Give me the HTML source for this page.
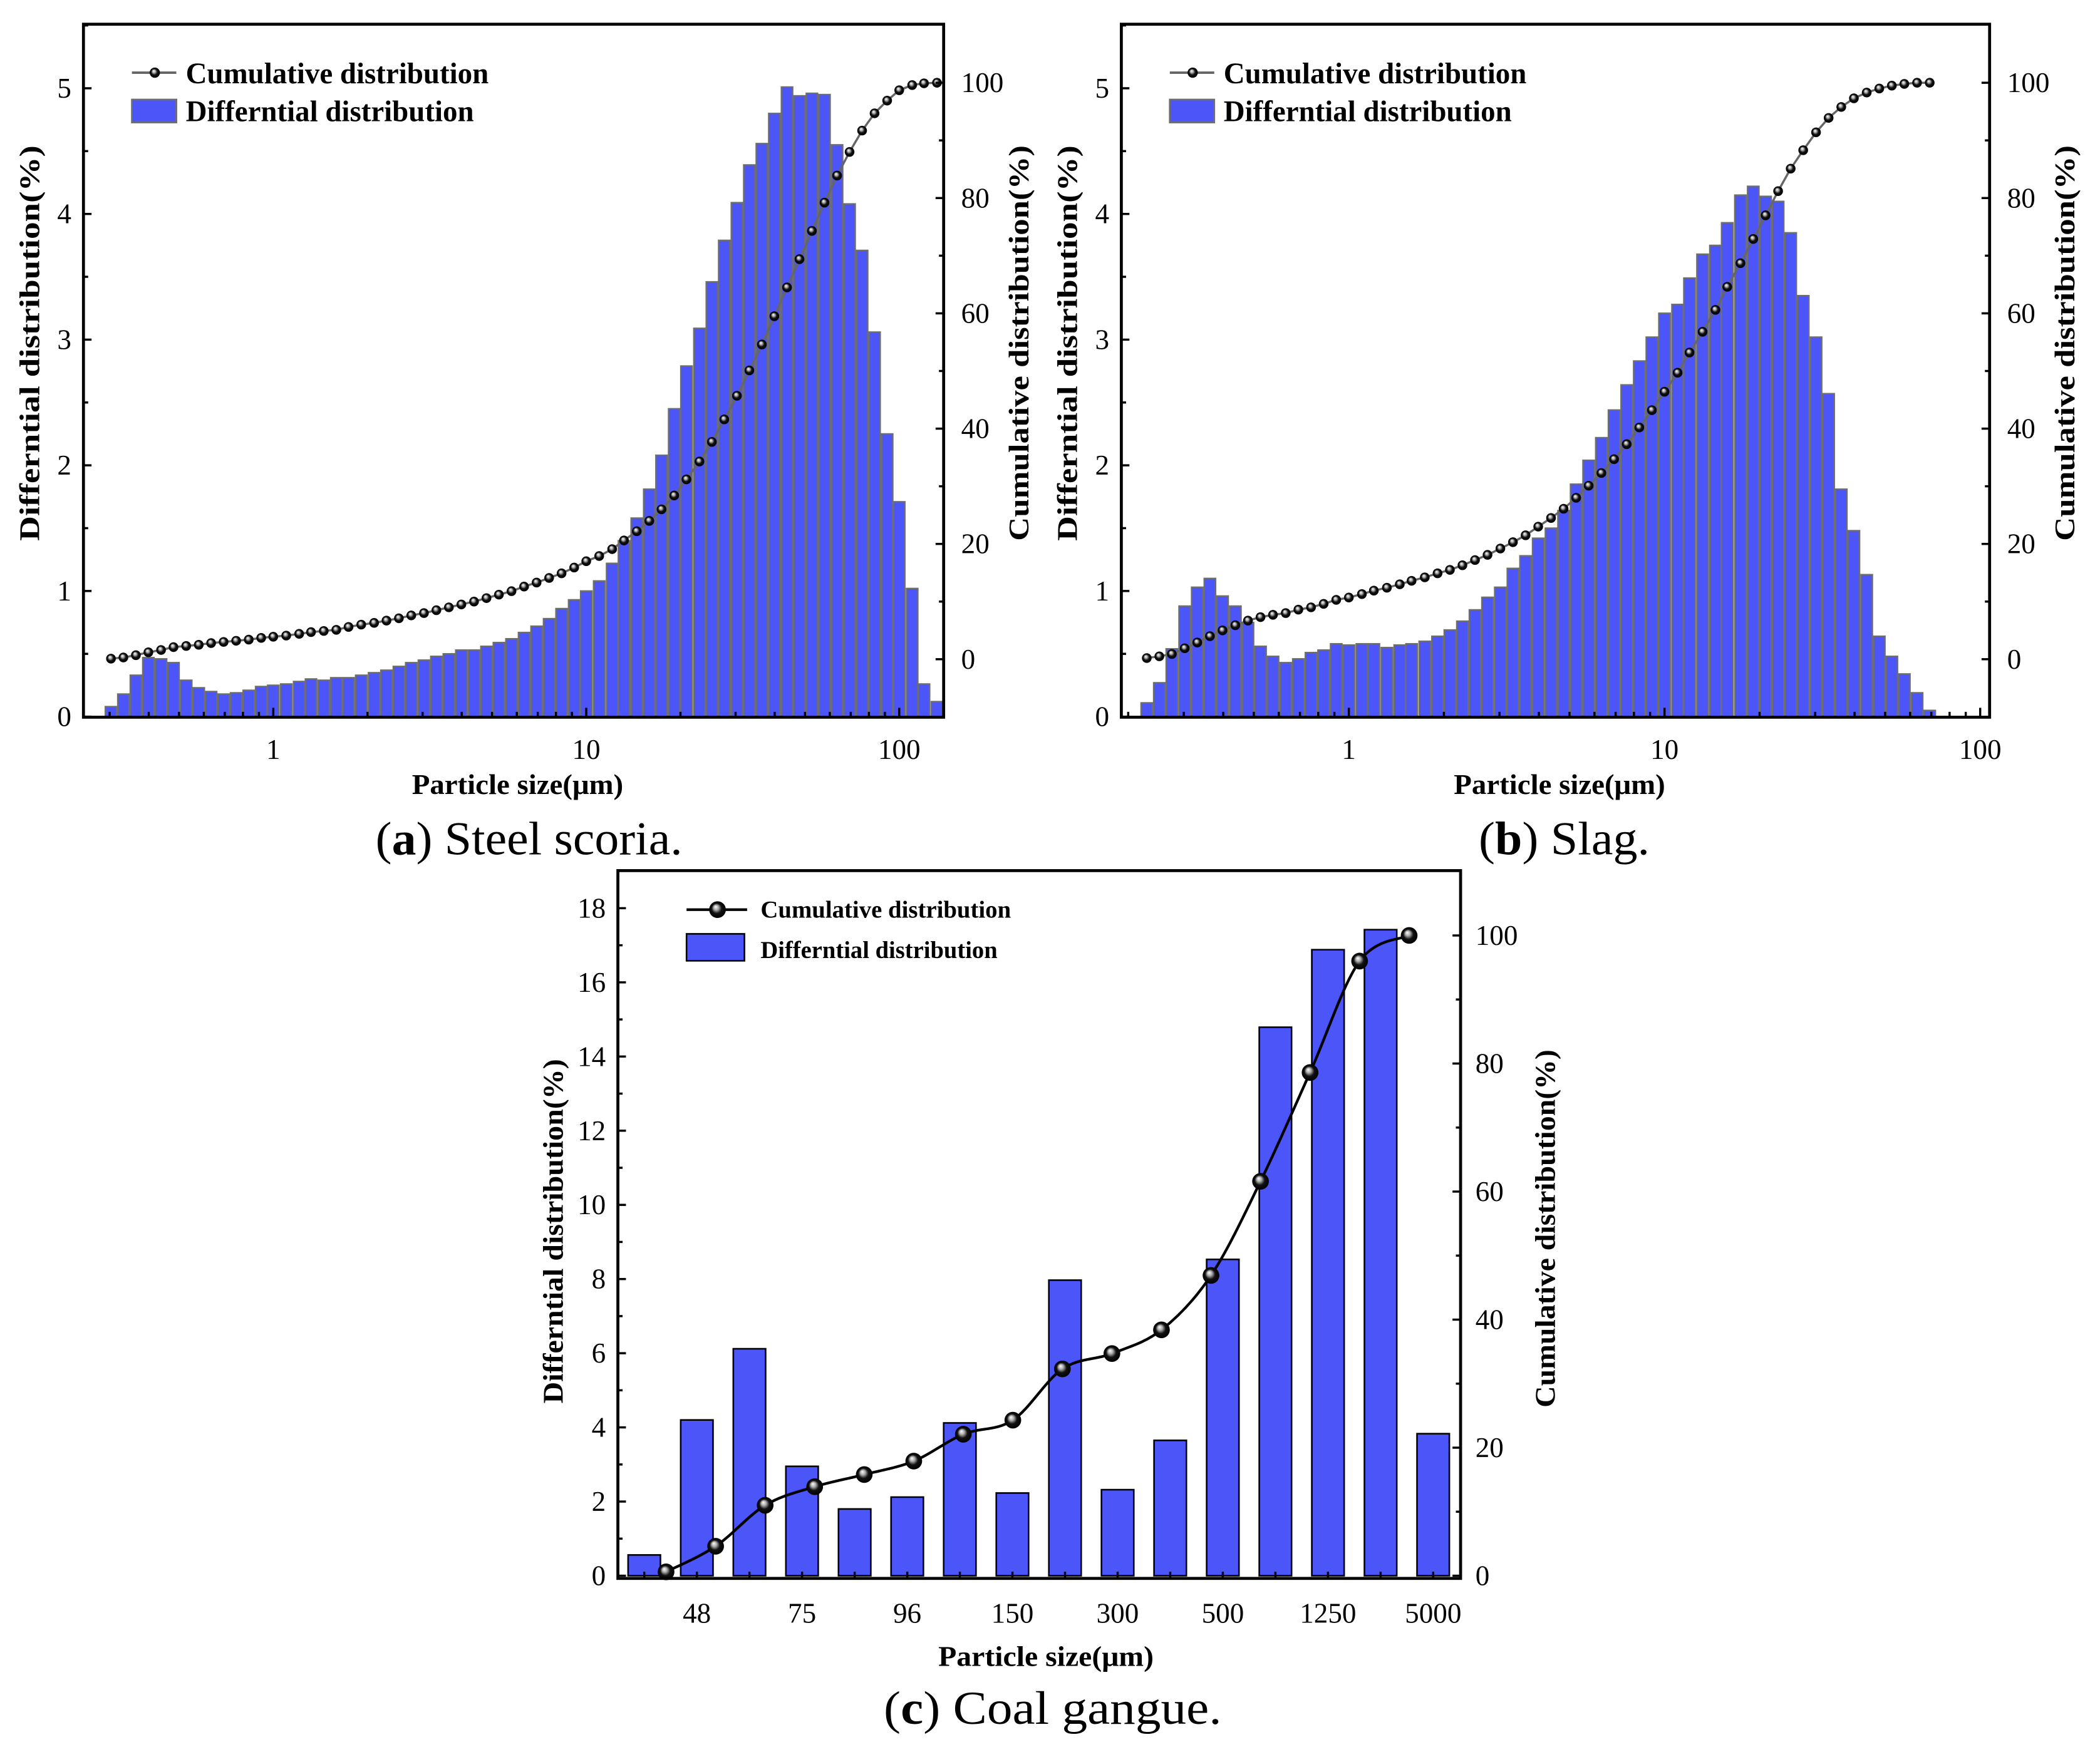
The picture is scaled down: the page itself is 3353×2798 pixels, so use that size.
<!DOCTYPE html>
<html><head><meta charset="utf-8"><style>
html,body{margin:0;padding:0;background:#fff;}
svg{display:block;}
.tk{font-family:"Liberation Serif",serif;font-size:21px;fill:#000;}
.tt{font-family:"Liberation Serif",serif;font-size:21px;font-weight:bold;fill:#000;}
.lg{font-family:"Liberation Serif",serif;font-size:22px;font-weight:bold;fill:#000;}
.lgc{font-family:"Liberation Serif",serif;font-size:18px;font-weight:bold;fill:#000;}
.cap{font-family:"Liberation Serif",serif;font-size:35px;fill:#000;}
</style></head><body>
<svg id="fig" width="3353" height="2798" viewBox="0 0 1560 1302" preserveAspectRatio="none" xmlns="http://www.w3.org/2000/svg">
<defs>
<radialGradient id="sph" cx="0.5" cy="0.5" r="0.5" fx="0.38" fy="0.32">
<stop offset="0" stop-color="#ffffff"/><stop offset="0.3" stop-color="#aaaaaa"/><stop offset="0.6" stop-color="#111"/><stop offset="1" stop-color="#000"/>
</radialGradient>
</defs>
<rect x="0" y="0" width="1560" height="1302" fill="#fff"/>
<g id="layer"></g>
</svg>
<script>
const aSizes=[0.303,0.332,0.364,0.399,0.438,0.480,0.527,0.578,0.633,0.694,0.761,0.835,0.915,1.00,1.10,1.21,1.32,1.45,1.59,1.74,1.91,2.10,2.30,2.52,2.76,3.03,3.32,3.64,3.99,4.38,4.80,5.26,5.77,6.33,6.94,7.61,8.34,9.15,10.0,11.0,12.1,13.2,14.5,15.9,17.4,19.1,20.9,23.0,25.2,27.6,30.3,33.2,36.4,39.9,43.8,48.0,52.6,57.7,63.3,69.4,76.1,83.4,91.5,100,110,120,132];
const aDiff=[0.08,0.18,0.33,0.47,0.46,0.43,0.29,0.23,0.2,0.18,0.19,0.21,0.24,0.25,0.26,0.28,0.3,0.29,0.31,0.31,0.33,0.35,0.37,0.4,0.43,0.45,0.48,0.5,0.53,0.53,0.56,0.59,0.62,0.67,0.72,0.78,0.86,0.93,1.0,1.08,1.22,1.4,1.58,1.81,2.08,2.45,2.79,3.09,3.46,3.79,4.09,4.39,4.56,4.8,5.01,4.94,4.96,4.95,4.55,4.08,3.71,3.06,2.25,1.71,1.02,0.26,0.12];
const aCum=[0.1,0.3,0.7,1.2,1.6,2.1,2.3,2.5,2.8,3.0,3.2,3.4,3.7,3.9,4.1,4.4,4.7,4.9,5.1,5.6,6.0,6.3,6.7,7.1,7.6,8.0,8.5,9.0,9.5,10.0,10.6,11.2,11.8,12.6,13.3,14.1,14.9,15.9,17.0,17.9,19.1,20.6,22.2,24.0,26.0,28.4,31.2,34.3,37.7,41.6,45.7,50.1,54.6,59.5,64.5,69.4,74.3,79.2,83.9,88.0,91.7,94.7,96.9,98.7,99.6,99.9,100];
const bSizes=[0.229,0.251,0.275,0.302,0.331,0.363,0.398,0.437,0.479,0.525,0.575,0.631,0.692,0.759,0.832,0.912,1.00,1.10,1.20,1.32,1.45,1.58,1.74,1.91,2.09,2.29,2.51,2.75,3.02,3.31,3.63,3.98,4.37,4.79,5.25,5.75,6.31,6.92,7.59,8.32,9.12,10.0,11.0,12.0,13.2,14.5,15.8,17.4,19.1,20.9,22.9,25.1,27.5,30.2,33.1,36.3,39.8,43.7,47.9,52.5,57.5,63.1,69.2];
const bDiff=[0.11,0.27,0.54,0.88,1.03,1.10,0.96,0.88,0.75,0.56,0.48,0.43,0.46,0.51,0.53,0.58,0.57,0.58,0.58,0.55,0.57,0.58,0.60,0.64,0.69,0.76,0.85,0.95,1.03,1.18,1.28,1.42,1.50,1.64,1.85,2.04,2.22,2.44,2.64,2.83,3.02,3.21,3.28,3.49,3.68,3.75,3.93,4.15,4.22,4.14,4.10,3.85,3.35,3.02,2.57,1.81,1.48,1.13,0.64,0.48,0.34,0.19,0.05];
const bCum=[0.2,0.5,0.9,1.9,2.9,4.0,5.0,5.9,6.7,7.3,7.7,8.0,8.6,9.0,9.6,10.3,10.7,11.3,11.9,12.4,13.0,13.6,14.2,14.9,15.5,16.3,17.2,18.1,19.2,20.3,21.5,23.0,24.5,26.1,28.0,30.1,32.3,34.7,37.3,40.2,43.2,46.4,49.7,53.2,56.8,60.6,64.6,68.7,72.9,77.0,81.2,85.1,88.3,91.4,93.9,95.8,97.3,98.3,99.0,99.5,99.8,100,100];
const cLabels=['','48','','75','','96','','150','','300','','500','','1250','','5000'];
const cDiff=[0.56,4.2,6.12,2.95,1.80,2.12,4.12,2.23,7.97,2.32,3.65,8.53,14.79,16.88,17.42,3.83];
const cCum=[0.6,4.6,11.0,13.9,15.8,17.9,22.1,24.3,32.3,34.7,38.4,46.9,61.6,78.6,96.0,100];
const aLeftTicks=[0,1,2,3,4,5];
const rightTicks=[0,20,40,60,80,100];
const logTicks=[1,10,100];
const cLeftTicks=[0,2,4,6,8,10,12,14,16,18];

const NS='http://www.w3.org/2000/svg';
const L=document.getElementById('layer');
function mk(tag,attrs,parent,text){const e=document.createElementNS(NS,tag);for(const k in attrs)e.setAttribute(k,attrs[k]);if(text!==undefined)e.textContent=text;(parent||L).appendChild(e);return e;}
function grp(name){const g=document.createElementNS(NS,'g');


L.appendChild(g);return g;}
const SQ='spacingAndGlyphs';

function logPanel(p){
  const g=grp(p.name);
  const fx=p.fx0,fx1=p.fx1,fy0=18,fy1=533;
  const xs=v=>p.x1+Math.log10(v)*p.dec;
  const ys=v=>532.6-v*93.4;
  const rs=v=>489.9-v*4.284;
  const bw=p.dec*0.04*0.9;
  const bg=document.createElementNS(NS,'g');
  
  
  g.appendChild(bg);
  p.sizes.forEach((s,i)=>{
    const x=xs(s),y=ys(p.diff[i]);
    const r=mk('rect',{x:x-bw/2,y:y,width:bw,height:ys(0)-y,fill:'#4B55F8',stroke:'#6e6e6e','stroke-width':1.1},bg);
    
    
  });
  const pts=p.sizes.map((s,i)=>[xs(s),rs(p.cum[i])]);
  const ln=mk('polyline',{points:pts.map(q=>q.join(',')).join(' '),fill:'none',stroke:'#666','stroke-width':1.6},g);
  
  
  pts.forEach(q=>{const c=mk('circle',{cx:q[0],cy:q[1],r:3.6,fill:'url(#sph)'},g);
  
  });
  mk('rect',{x:fx,y:fy0,width:fx1-fx,height:fy1-fy0,fill:'none',stroke:'#000','stroke-width':2.2},g);
  for(let v=0;v<=5.5;v+=0.5){const y=ys(v);const maj=Math.abs(v-Math.round(v))<1e-6;
    mk('line',{x1:fx,x2:fx+(maj?6:3.5),y1:y,y2:y,stroke:'#000','stroke-width':1.6},g);}
  aLeftTicks.forEach(v=>{const t=mk('text',{x:fx-9,y:ys(v)+7,'text-anchor':'end',class:'tk'},g,String(v));
    
    });
  for(let v=-10;v<=110;v+=10){const y=rs(v);if(y<fy0+1||y>fy1-1)continue;const maj=v%20===0;
    mk('line',{x1:fx1,x2:fx1-(maj?6:3.5),y1:y,y2:y,stroke:'#000','stroke-width':1.6},g);}
  rightTicks.forEach(v=>{const t=mk('text',{x:fx1+13,y:rs(v)+7,class:'tk'},g,String(v));
    
    });
  for(let d=0.1;d<=100;d*=10){for(let m=1;m<10;m++){const v=d*m;const x=xs(v);if(x<fx+1||x>fx1-1)continue;
    mk('line',{x1:x,x2:x,y1:fy1,y2:fy1-(m===1?7:4),stroke:'#000','stroke-width':1.6},g);}}
  logTicks.forEach(v=>{const x=xs(v);if(x>fx1+12)return;const t=mk('text',{x:x,y:564,'text-anchor':'middle',class:'tk'},g,String(v));
    
    });
  const xt=mk('text',{x:(fx+fx1)/2+3,y:590,'text-anchor':'middle',class:'tt',textLength:157,lengthAdjust:SQ},g,'Particle size(μm)');
  
  const yt=mk('text',{x:0,y:0,'text-anchor':'middle',class:'tt',textLength:294,lengthAdjust:SQ,transform:`translate(${fx-33},255) rotate(-90)`},g,'Differntial distribution(%)');
  
  const rt=mk('text',{x:0,y:0,'text-anchor':'middle',class:'tt',textLength:294,lengthAdjust:SQ,transform:`translate(${fx1+63},255) rotate(-90)`},g,'Cumulative distribution(%)');
  
  const lx=fx+36;
  const lg=document.createElementNS(NS,'g');
  
  
  g.appendChild(lg);
  mk('line',{x1:lx,x2:lx+33,y1:54,y2:54,stroke:'#666','stroke-width':1.8},lg);
  mk('circle',{cx:lx+17,cy:54,r:3.8,fill:'url(#sph)'},lg);
  mk('text',{x:lx+40,y:62,class:'lg',textLength:225,lengthAdjust:SQ},lg,'Cumulative distribution');
  mk('rect',{x:lx,y:74,width:33,height:17,fill:'#4B55F8',stroke:'#6e6e6e','stroke-width':1.3},lg);
  mk('text',{x:lx+40,y:90,class:'lg',textLength:214,lengthAdjust:SQ},lg,'Differntial distribution');
  const cp=mk('text',{x:p.capX,y:635,'text-anchor':'middle',class:'cap',textLength:p.capW,lengthAdjust:SQ},g);
  
  mk('tspan',{},cp,'(');mk('tspan',{'font-weight':'bold'},cp,p.capL);mk('tspan',{},cp,') '+p.capT);
}
logPanel({name:'panel-a-steel-scoria',fx0:62,fx1:701,x1:203,dec:232.5,sizes:aSizes,diff:aDiff,cum:aCum,capX:393,capW:228,capL:'a',capT:'Steel scoria.'});
logPanel({name:'panel-b-slag',fx0:833,fx1:1478,x1:1002,dec:234.5,sizes:bSizes,diff:bDiff,cum:bCum,capX:1162,capW:127,capL:'b',capT:'Slag.'});

(function(){
  const g=grp('panel-c-coal-gangue');
  const fx=459,fx1=1085,fy0=647,fy1=1173;
  const yc=v=>1171-v*27.56, rc=v=>1171-v*4.758;
  const xb=i=>478.6+i*39.07, xp=i=>494.8+i*36.8;
  const bw=24;
  cDiff.forEach((v,i)=>{const r=mk('rect',{x:xb(i)-bw/2,y:yc(v),width:bw,height:yc(0)-yc(v),fill:'#4B55F8',stroke:'#000','stroke-width':1.2},g);
    
    });
  const P=cCum.map((v,i)=>[xp(i),rc(v)]);
  let d='M'+P[0][0]+','+P[0][1];
  for(let i=0;i<P.length-1;i++){const p0=P[Math.max(0,i-1)],p1=P[i],p2=P[i+1],p3=P[Math.min(P.length-1,i+2)];
    const c1=[p1[0]+(p2[0]-p0[0])/6,p1[1]+(p2[1]-p0[1])/6],c2=[p2[0]-(p3[0]-p1[0])/6,p2[1]-(p3[1]-p1[1])/6];
    d+=` C${c1[0]},${c1[1]} ${c2[0]},${c2[1]} ${p2[0]},${p2[1]}`;}
  const ln=mk('path',{d:d,fill:'none',stroke:'#000','stroke-width':2},g);
  
  
  P.forEach(q=>{const c=mk('circle',{cx:q[0],cy:q[1],r:6.2,fill:'url(#sph)'},g);
    
    });
  mk('rect',{x:fx,y:fy0,width:fx1-fx,height:fy1-fy0,fill:'none',stroke:'#000','stroke-width':2.2},g);
  for(let v=0;v<=19;v+=1){const y=yc(v);if(y<fy0+1)continue;const maj=v%2===0;
    mk('line',{x1:fx,x2:fx+(maj?6:3.5),y1:y,y2:y,stroke:'#000','stroke-width':1.6},g);}
  cLeftTicks.forEach(v=>{const t=mk('text',{x:fx-9,y:yc(v)+7,'text-anchor':'end',class:'tk'},g,String(v));
    });
  for(let v=0;v<=110;v+=10){const y=rc(v);if(y<fy0+1)continue;const maj=v%20===0;
    mk('line',{x1:fx1,x2:fx1-(maj?6:3.5),y1:y,y2:y,stroke:'#000','stroke-width':1.6},g);}
  rightTicks.forEach(v=>{const t=mk('text',{x:fx1+11,y:rc(v)+7,class:'tk'},g,String(v));
    });
  cLabels.forEach((s,i)=>{const x=xb(i);mk('line',{x1:x,x2:x,y1:fy1,y2:fy1-5,stroke:'#000','stroke-width':1.6},g);
    if(s){const t=mk('text',{x:x,y:1206,'text-anchor':'middle',class:'tk'},g,s);
    }});
  const xt=mk('text',{x:777,y:1238,'text-anchor':'middle',class:'tt',textLength:160,lengthAdjust:SQ},g,'Particle size(μm)');
  
  const yt=mk('text',{x:0,y:0,'text-anchor':'middle',class:'tt',textLength:256,lengthAdjust:SQ,transform:'translate(418,915) rotate(-90)'},g,'Differntial distribution(%)');
  
  const rt=mk('text',{x:0,y:0,'text-anchor':'middle',class:'tt',textLength:266,lengthAdjust:SQ,transform:'translate(1155,913) rotate(-90)'},g,'Cumulative distribution(%)');
  
  const lg=document.createElementNS(NS,'g');
  
  
  g.appendChild(lg);
  mk('line',{x1:510,x2:555,y1:676,y2:676,stroke:'#000','stroke-width':2},lg);
  mk('circle',{cx:533,cy:676,r:6.2,fill:'url(#sph)'},lg);
  mk('text',{x:565,y:682,class:'lgc',textLength:186,lengthAdjust:SQ},lg,'Cumulative distribution');
  mk('rect',{x:510,y:694,width:43,height:20,fill:'#4B55F8',stroke:'#000','stroke-width':1.2},lg);
  mk('text',{x:565,y:712,class:'lgc',textLength:176,lengthAdjust:SQ},lg,'Differntial distribution');
  const cp=mk('text',{x:782,y:1281,'text-anchor':'middle',class:'cap',textLength:251,lengthAdjust:SQ},g);
  
  mk('tspan',{},cp,'(');mk('tspan',{'font-weight':'bold'},cp,'c');mk('tspan',{},cp,') Coal gangue.');
})();
</script>
</body></html>
